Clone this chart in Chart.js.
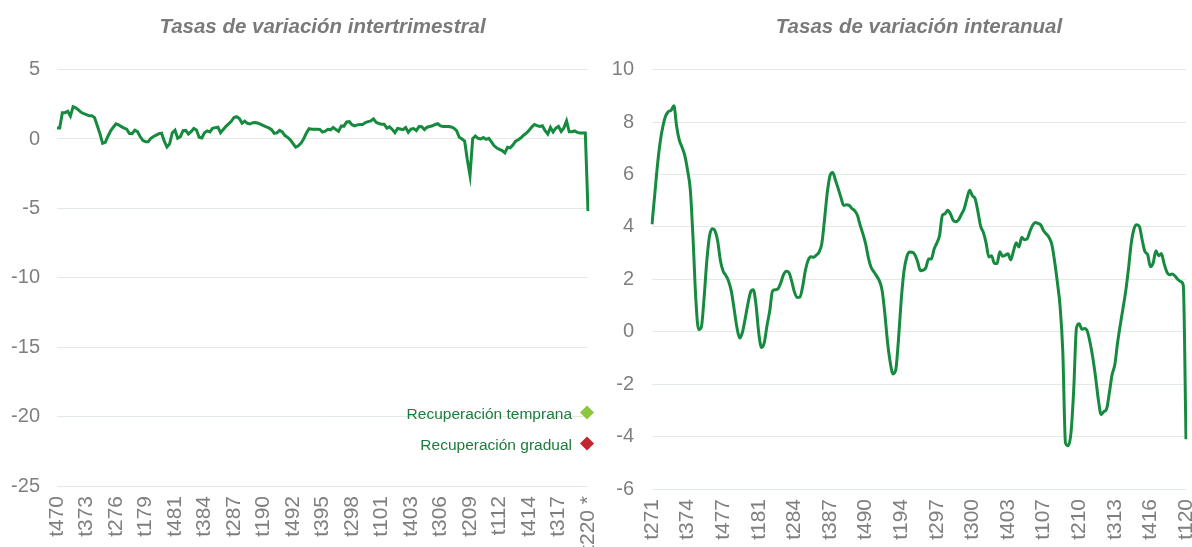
<!DOCTYPE html>
<html>
<head>
<meta charset="utf-8">
<script src="https://cdn.jsdelivr.net/npm/chart.js@4/dist/chart.umd.min.js"></script>
<style>
  html, body { margin: 0; padding: 0; background: #fff; overflow: hidden; }
  #wrap { position: relative; width: 1192px; height: 547px; }
  #left { position: absolute; left: 0; top: 0; }
  #right { position: absolute; left: 596px; top: 0; }
</style>
</head>
<body>
<div id="wrap">
  <canvas id="left" width="600" height="547"></canvas>
  <canvas id="right" width="596" height="547"></canvas>
</div>
<script>
// tasas de variación intertrimestral, t4 1970 .. t2 2020
const intertrimestral = [0.8,0.8,1.9,1.9,2.0,1.65,2.33,2.25,2.1,1.92,
  1.82,1.75,1.67,1.67,1.54,0.98,0.39,-0.31,-0.24,0.2,
  0.59,0.85,1.09,1.02,0.89,0.78,0.71,0.4,0.39,0.64,
  0.53,0.18,-0.1,-0.19,-0.19,0.05,0.18,0.28,0.39,0.42,
  -0.16,-0.58,-0.35,0.45,0.63,0.05,0.17,0.6,0.62,0.36,
  0.53,0.76,0.65,0.13,0.08,0.45,0.58,0.51,0.77,0.82,
  0.85,0.45,0.69,0.91,1.09,1.27,1.55,1.61,1.48,1.14,
  1.29,1.13,1.08,1.17,1.19,1.14,1.05,0.96,0.87,0.8,
  0.67,0.4,0.44,0.62,0.51,0.25,0.12,-0.06,-0.33,-0.59,
  -0.49,-0.3,0.02,0.44,0.75,0.71,0.71,0.71,0.69,0.5,
  0.56,0.7,0.66,0.83,0.68,0.55,0.94,0.93,1.23,1.25,
  1.03,0.95,1.02,1.05,1.04,1.18,1.25,1.3,1.45,1.2,
  1.12,1.07,1.07,0.79,0.88,0.69,0.45,0.76,0.72,0.67,
  0.83,0.48,0.71,0.75,0.6,0.9,0.88,0.67,0.85,0.9,
  0.95,1.05,1.1,0.94,0.9,0.9,0.9,0.87,0.78,0.6,
  0.12,0.0,-0.15,-1.5,-2.62,0.03,0.22,0.05,0.0,0.1,
  -0.03,0.05,-0.21,-0.49,-0.65,-0.74,-0.83,-1.0,-0.6,-0.64,
  -0.44,-0.16,-0.05,0.09,0.27,0.42,0.62,0.86,1.05,0.96,
  0.9,0.95,0.6,0.36,0.83,0.5,0.78,0.91,0.54,0.8,
  1.3,0.52,0.52,0.58,0.48,0.43,0.43,0.43,-5.2];

// tasas de variación interanual, t2 1971 .. t1 2020
const interanual = [4.1,5.23,6.36,7.25,7.85,8.24,8.4,8.45,8.62,7.83,
  7.3,7.03,6.71,6.15,5.4,3.53,1.25,0.08,0.17,1.26,
  2.68,3.65,3.93,3.85,3.45,2.7,2.31,2.14,1.92,1.53,
  0.86,0.17,-0.24,-0.03,0.48,1.05,1.51,1.6,1.01,-0.07,
  -0.6,-0.42,0.24,0.8,1.55,1.6,1.64,1.86,2.17,2.31,
  2.26,1.93,1.52,1.31,1.32,1.72,2.33,2.72,2.86,2.84,
  2.92,3.04,3.36,4.28,5.3,5.95,6.07,5.78,5.46,5.12,
  4.82,4.84,4.82,4.7,4.62,4.44,4.07,3.74,3.36,2.83,
  2.46,2.29,2.13,1.95,1.59,0.72,-0.39,-1.17,-1.61,-1.46,
  -0.31,1.2,2.3,2.84,3.04,3.03,2.94,2.67,2.33,2.35,
  2.44,2.77,2.77,3.15,3.38,3.67,4.43,4.5,4.63,4.49,
  4.25,4.2,4.28,4.48,4.69,5.08,5.4,5.19,5.07,4.59,
  4.03,3.79,3.39,2.85,2.9,2.61,2.6,3.05,2.88,2.92,
  2.97,2.74,3.08,3.39,3.23,3.6,3.51,3.54,3.83,4.06,
  4.17,4.13,4.07,3.85,3.73,3.59,3.33,2.7,1.91,1.0,
  -0.73,-4.25,-4.35,-3.86,-2.21,0.14,0.3,0.09,0.12,0.01,
  -0.43,-1.01,-1.75,-2.6,-3.16,-3.05,-2.95,-2.34,-1.64,-1.26,
  -0.43,0.26,0.9,1.56,2.41,3.37,3.92,4.08,4.01,3.5,
  3.06,2.94,2.48,2.62,3.09,2.9,2.98,2.6,2.28,2.17,
  2.2,2.12,2.0,1.92,1.78,-4.1];

// etiquetas visibles del eje x
const leftTicks = ['t470','t373','t276','t179','t481','t384','t287','t190','t492','t395',
  't298','t101','t403','t306','t209','t112','t414','t317','t220 *'];
const rightTicks = ['t271','t374','t477','t181','t284','t387','t490','t194','t297','t300',
  't403','t107','t210','t313','t416','t120'];
const leftStep = 11;
const rightStep = 13;

const scenarioLabels = ['Recuperación temprana', 'Recuperación gradual'];
const scenarioColors = ['#8dc63f', '#c4262e'];

// trimestres: 't' + trimestre + año (2 cifras)
function quarters(year, q, n) {
  const out = [];
  for (let k = 0; k < n; k++) {
    out.push('t' + q + String(year % 100).padStart(2, '0'));
    q++;
    if (q > 4) { q = 1; year++; }
  }
  return out;
}

const leftCats = quarters(1970, 4, intertrimestral.length);
const rightCats = quarters(1971, 2, interanual.length);

const FONT = "'Liberation Sans', Arial, sans-serif";
const GREEN = '#168a3f';
const GRID = '#e1ebe4';
const TICK = '#7f7f7f';

const scenarioLegend = {
  id: 'scenarioLegend',
  afterDraw(chart) {
    const ctx = chart.ctx;
    const area = chart.chartArea;
    ctx.save();
    ctx.font = '15.5px ' + FONT;
    ctx.textAlign = 'right';
    ctx.textBaseline = 'middle';
    scenarioLabels.forEach((label, k) => {
      const y = area.top + 344 + k * 31;
      ctx.fillStyle = '#1f7a3f';
      ctx.fillText(label, area.right - 16, y + 1);
      const cx = area.right - 1, cy = y - 1, r = 7;
      ctx.fillStyle = scenarioColors[k];
      ctx.beginPath();
      ctx.moveTo(cx, cy - r);
      ctx.lineTo(cx + r, cy);
      ctx.lineTo(cx, cy + r);
      ctx.lineTo(cx - r, cy);
      ctx.closePath();
      ctx.fill();
    });
    ctx.restore();
  }
};

function makeOptions(title, min, max, step, ticks, every, yWidth, yPad, xHeight, padRight) {
  return {
    responsive: false,
    animation: false,
    layout: { padding: { left: 0, right: padRight, top: 0, bottom: 0 } },
    plugins: {
      legend: { display: false },
      tooltip: { enabled: false },
      title: {
        display: true,
        fullSize: false,
        text: title,
        color: '#7a7a7a',
        font: { family: FONT, size: 20.5, style: 'italic', weight: 'bold', lineHeight: 1.2 },
        padding: { top: 15, bottom: 30 }
      }
    },
    scales: {
      x: {
        grid: { display: false, drawTicks: false },
        border: { display: false },
        afterFit: (scale) => {
          scale.paddingLeft = 0;
          scale.paddingRight = 0;
          scale.height = xHeight;
        },
        ticks: {
          autoSkip: false,
          minRotation: 90,
          maxRotation: 90,
          padding: 10,
          color: TICK,
          font: { family: FONT, size: 21, lineHeight: 1 },
          callback: (val, index) => index % every === 0 ? ticks[index / every] : ''
        }
      },
      y: {
        min: min,
        max: max,
        grid: { color: GRID, lineWidth: 1, drawTicks: false },
        border: { display: false },
        afterFit: (scale) => {
          scale.width = yWidth;
          scale.paddingTop = 0;
          scale.paddingBottom = 0;
        },
        ticks: {
          stepSize: step,
          padding: yPad,
          color: TICK,
          font: { family: FONT, size: 20 }
        }
      }
    }
  };
}

new Chart(document.getElementById('left').getContext('2d'), {
  type: 'line',
  data: {
    labels: leftCats,
    datasets: [{
      label: 'Tasas de variación intertrimestral',
      data: intertrimestral,
      borderColor: GREEN,
      borderWidth: 3,
      pointRadius: 0,
      tension: 0,
      fill: false
    }]
  },
  options: makeOptions('Tasas de variación intertrimestral', -25, 5, 5, leftTicks, leftStep,
    57, 17, 61, 12),
  plugins: [scenarioLegend]
});

new Chart(document.getElementById('right').getContext('2d'), {
  type: 'line',
  data: {
    labels: rightCats,
    datasets: [{
      label: 'Tasas de variación interanual',
      data: interanual,
      borderColor: GREEN,
      borderWidth: 3,
      pointRadius: 0,
      cubicInterpolationMode: 'monotone',
      fill: false
    }]
  },
  options: makeOptions('Tasas de variación interanual', -6, 10, 2, rightTicks, rightStep,
    56, 18, 58, 6)
});
</script>
</body>
</html>
